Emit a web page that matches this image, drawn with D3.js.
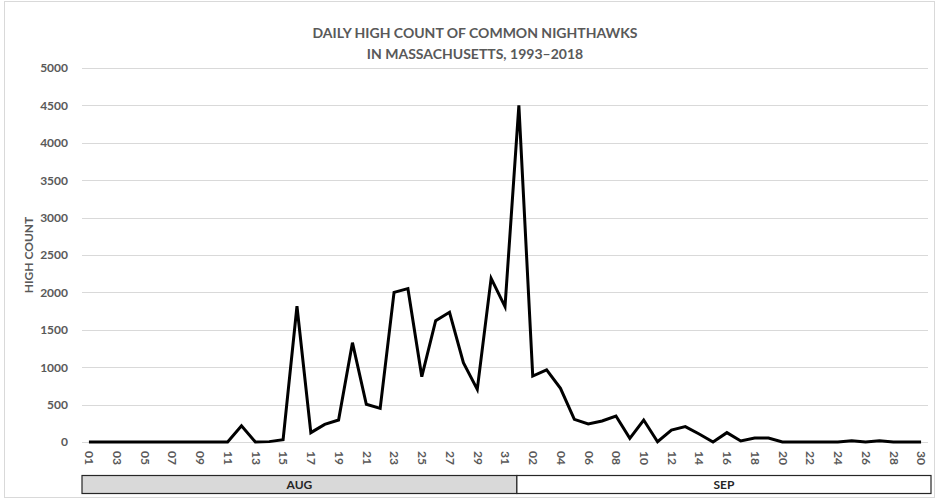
<!DOCTYPE html>
<html>
<head>
<meta charset="utf-8">
<script src="https://cdn.jsdelivr.net/npm/d3@7"></script>
<style>
  html, body { margin: 0; padding: 0; background: #fff; }
  svg { display: block; font-family: Lato, "Open Sans", sans-serif; }
</style>
</head>
<body>
<svg id="chart" width="939" height="501"></svg>
<script>
// ---- data ----
const titleLines = ["DAILY HIGH COUNT OF COMMON NIGHTHAWKS", "IN MASSACHUSETTS, 1993\u20132018"];
const yAxisTitle = "HIGH COUNT";
const months = ["AUG", "SEP"];
const monthDays = [31, 30];
const augValues = [0, 0, 0, 0, 0, 0, 0, 0, 0, 0, 0, 218, 0, 5, 30, 1815, 125, 236, 294, 1328, 504, 450, 2001, 2050, 873, 1622, 1734, 1060, 704, 2188, 1809];
const sepValues = [4500, 882, 963, 718, 303, 241, 281, 348, 49, 294, 4, 160, 205, 107, 0, 125, 13, 53, 53, 0, 0, 0, 0, 0, 17, 0, 15, 0, 0, 0];
const yTicks = [0, 500, 1000, 1500, 2000, 2500, 3000, 3500, 4000, 4500, 5000];

// ---- build categories ----
const pad2 = n => (n < 10 ? "0" : "") + n;
const cats = [];
months.forEach((m, mi) => {
  const vals = mi === 0 ? augValues : sepValues;
  for (let d = 1; d <= monthDays[mi]; d++) {
    cats.push({ key: m + "-" + pad2(d), month: m, day: pad2(d), value: vals[d - 1] });
  }
});

const svg = d3.select("#chart");
const plot = { left: 82, right: 928, top: 68, bottom: 442 };

// outer border
svg.append("rect").attr("x", 4.5).attr("y", 1.5).attr("width", 930).attr("height", 496)
  .attr("fill", "#fff").attr("stroke", "#d9d9d9").attr("stroke-width", 1);

const x = d3.scalePoint().domain(cats.map(c => c.key))
  .range([plot.left, plot.right]).padding(0.5);
const y = d3.scaleLinear().domain([0, 5000]).range([plot.bottom, plot.top]);

// gridlines
svg.append("g").selectAll("line").data(yTicks).join("line")
  .attr("x1", plot.left).attr("x2", plot.right)
  .attr("y1", d => Math.round(y(d)) + 0.5).attr("y2", d => Math.round(y(d)) + 0.5)
  .attr("stroke", "#d9d9d9").attr("stroke-width", 1);

// y axis labels
const yAxis = d3.axisLeft(y).tickValues(yTicks).tickSize(0).tickPadding(0).tickFormat(d3.format("d"));
const yg = svg.append("g").attr("transform", `translate(${plot.left - 14},0)`).call(yAxis);
yg.select(".domain").remove();
yg.selectAll("text").attr("fill", "#595959").attr("font-size", 12).attr("font-weight", 700)
  .attr("font-family", "Lato, sans-serif");

// x axis labels (every other day)
const labelKeys = cats.filter((c, i) => i % 2 === 0).map(c => c.key);
const xAxis = d3.axisBottom(x).tickValues(labelKeys).tickSize(0).tickPadding(0)
  .tickFormat(k => k.slice(4));
const xg = svg.append("g").attr("transform", `translate(0,${plot.bottom})`).call(xAxis);
xg.select(".domain").remove();
xg.selectAll("text")
  .attr("transform", "rotate(90)")
  .attr("x", 9).attr("y", 0).attr("dy", "0.35em")
  .attr("text-anchor", "start")
  .attr("fill", "#595959").attr("font-size", 12).attr("font-weight", 700)
  .attr("font-family", "Lato, sans-serif");

// line
const line = d3.line().x(d => x(d.key)).y(d => y(d.value));
svg.append("path").datum(cats).attr("d", line)
  .attr("fill", "none").attr("stroke", "#000").attr("stroke-width", 3)
  .attr("stroke-linejoin", "miter").attr("stroke-miterlimit", 4);

// month boxes
const boxTop = 475.5, boxH = 18;
let startIdx = 0;
months.forEach((m, mi) => {
  const first = cats[startIdx].key;
  const x0 = mi === 0 ? plot.left : x(first) - 2;
  const x1 = mi === 0 ? x(cats[startIdx + monthDays[mi]].key) - 2 : plot.right + 3;
  svg.append("rect").attr("x", x0).attr("y", boxTop).attr("width", x1 - x0).attr("height", boxH)
    .attr("fill", mi === 0 ? "#d9d9d9" : "#fff").attr("stroke", "#262626").attr("stroke-width", 1.2);
  svg.append("text").attr("x", (x0 + x1) / 2).attr("y", boxTop + boxH / 2).attr("dy", "0.35em")
    .attr("text-anchor", "middle").attr("fill", "#262626").attr("font-size", 12).attr("font-weight", 700)
    .text(m);
  startIdx += monthDays[mi];
});

// title
svg.append("g").selectAll("text").data(titleLines).join("text")
  .attr("x", 475).attr("y", (d, i) => 33 + i * 21).attr("dy", "0.35em")
  .attr("text-anchor", "middle").attr("fill", "#595959").attr("font-size", 14).attr("font-weight", 700)
  .text(d => d);

// y axis title
svg.append("text").attr("transform", `translate(29,${(plot.top + plot.bottom) / 2}) rotate(-90)`)
  .attr("text-anchor", "middle").attr("dy", "0.35em")
  .attr("fill", "#595959").attr("font-size", 12).attr("font-weight", 700)
  .text(yAxisTitle);
</script>
</body>
</html>
